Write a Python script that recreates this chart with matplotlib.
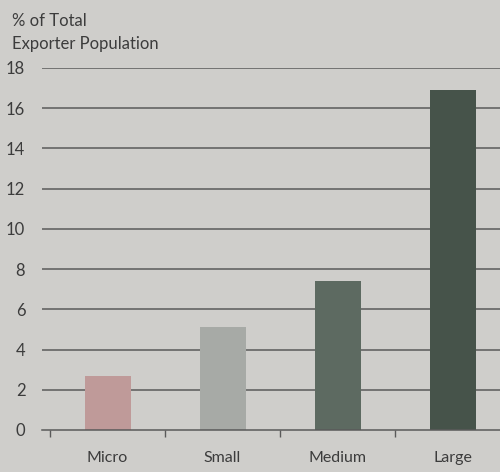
import numpy as np
import matplotlib.pyplot as plt

# data
categories = ["Micro", "Small", "Medium", "Large"]
values = [2.7, 5.1, 7.4, 16.9]
colors = ["#bf9a99", "#a7aaa6", "#5d6a61", "#46534a"]
yticks = [0, 2, 4, 6, 8, 10, 12, 14, 16, 18]

bg = "#cfcecb"
txt = "#3c3c3c"
plt.rcParams['font.family'] = ['Lato', 'DejaVu Sans']

fig = plt.figure(figsize=(5, 4.72), dpi=100, facecolor=bg)
ax = fig.add_axes([0.084, 0.089, 0.916, 0.767], facecolor=bg)

x = np.arange(len(categories)) + 0.5
for yv in yticks[1:]:
    ax.axhline(yv, color="#5a5a5a", lw=1.1, zorder=1)
ax.bar(x, values, width=0.4, color=colors, zorder=2)

ax.set_xlim(-0.07, 3.913)
ax.set_ylim(0, 18)
for s in ["top", "right", "left"]:
    ax.spines[s].set_visible(False)
ax.spines["bottom"].set_color("#5a5a5a")
ax.spines["bottom"].set_linewidth(1.1)

ax.set_xticks([0, 1, 2, 3])
ax.set_xticklabels([])
ax.tick_params(axis="x", which="major", length=5, color="#5a5a5a", width=1)
ax.set_xticks(x, minor=True)
ax.set_xticklabels(categories, minor=True, fontsize=11.5, color=txt)
ax.tick_params(axis="x", which="minor", length=0, pad=15)

ax.set_yticks(yticks)
ax.set_yticklabels([str(v) for v in yticks], fontsize=12, color=txt)
ax.tick_params(axis="y", length=0, pad=12)

fig.text(0.024, 0.972, "% of Total\nExporter Population", fontsize=12,
         color=txt, ha="left", va="top", linespacing=1.5)

fig.savefig("out.png", dpi=100, facecolor=bg)
